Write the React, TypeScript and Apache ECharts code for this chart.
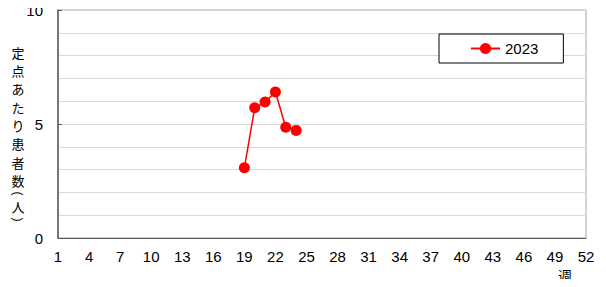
import React, { useEffect, useRef } from "react";
import * as echarts from "echarts";

const weekLabels = [
  "1","2","3","4","5","6","7","8","9","10","11","12","13","14","15","16","17","18","19","20",
  "21","22","23","24","25","26","27","28","29","30","31","32","33","34","35","36","37","38","39","40",
  "41","42","43","44","45","46","47","48","49","50","51","52",
];
const seriesName = "2023";
const dataWeeks = ["19", "20", "21", "22", "23", "24"];
const dataValues = [3.08, 5.71, 5.96, 6.4, 4.86, 4.72];
const yTickLabels = ["0", "5", "10"];
const yAxisTitleChars = ["定", "点", "あ", "た", "り", "患", "者", "数", "(", "人", ")"];
const yAxisTitleY = [52, 70.3, 88.6, 107, 125.3, 143.6, 162, 180, 193.5, 206.5, 219.5];
const xAxisTitle = "週";

export default function App() {
  const ref = useRef<HTMLDivElement>(null);
  useEffect(() => {
    if (!ref.current) return;
    const chart = echarts.init(ref.current, null, { renderer: "svg" });
    const font = "'Liberation Sans', Arial, sans-serif";
    const jp = "'Noto Sans CJK JP', sans-serif";
    chart.setOption({
      animation: false,
      backgroundColor: "#ffffff",
      grid: {
        left: 58,
        top: 10,
        right: 20,
        bottom: 49,
        show: true,
        borderColor: "#a6a6a6",
        borderWidth: 1,
      },
      legend: {
        left: 439,
        top: 34,
        data: [seriesName],
        itemWidth: 29,
        itemHeight: 14,
        itemGap: 0,
        padding: [7, 25, 7, 31],
        borderColor: "#000000",
        borderWidth: 1,
        backgroundColor: "#ffffff",
        textStyle: { fontFamily: font, fontSize: 15, color: "#000" },
      },
      xAxis: {
        type: "category",
        data: weekLabels,
        boundaryGap: false,
        axisLine: { show: true, lineStyle: { color: "#595959", width: 1 } },
        axisTick: { show: false },
        axisLabel: {
          interval: 2,
          fontFamily: font,
          fontSize: 15,
          color: "#000",
          margin: 11,
        },
        splitLine: { show: false },
      },
      yAxis: {
        type: "value",
        min: 0,
        max: 10,
        interval: 5,
        axisLine: { show: true, lineStyle: { color: "#595959", width: 1.5 } },
        axisTick: { show: true, inside: true, length: 4, lineStyle: { color: "#595959" } },
        axisLabel: {
          fontFamily: font,
          fontSize: 15,
          color: "#000",
          margin: 15,
          formatter: (v: number) => (yTickLabels.includes(String(v)) ? String(v) : ""),
        },
        splitLine: { show: true, lineStyle: { color: "#d9d9d9", width: 1 } },
        minorTick: { show: false, splitNumber: 5 },
        minorSplitLine: { show: true, lineStyle: { color: "#d9d9d9", width: 1 } },
      },
      graphic: [
        ...yAxisTitleChars.map((c, i) => {
          const isParen = c === "(" || c === ")";
          return {
            type: "text",
            x: 18,
            y: yAxisTitleY[i],
            rotation: isParen ? -Math.PI / 2 : 0,
            style: {
              text: c,
              fontFamily: isParen ? font : jp,
              fontSize: isParen ? 12 : 13,
              fill: "#000",
              align: "center",
              verticalAlign: "middle",
            },
          };
        }),
        {
          type: "text",
          x: 565,
          y: 268,
          style: {
            text: xAxisTitle,
            fontFamily: jp,
            fontSize: 14,
            lineHeight: 14,
            fill: "#000",
            align: "center",
            verticalAlign: "top",
          },
        },
      ],
      series: [
        {
          name: seriesName,
          type: "line",
          data: dataWeeks.map((w, i) => [w, dataValues[i]]),
          symbol: "circle",
          symbolSize: 11,
          showSymbol: true,
          showAllSymbol: true,
          lineStyle: { color: "#ff0000", width: 1.5 },
          itemStyle: { color: "#ff0000" },
        },
      ],
    });
    return () => chart.dispose();
  }, []);
  return <div ref={ref} style={{ width: 606, height: 287, margin: -8 }} />;
}
